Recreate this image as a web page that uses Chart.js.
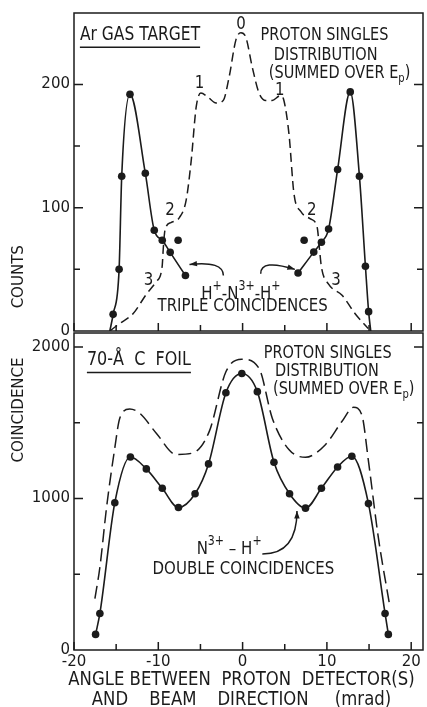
<!DOCTYPE html>
<html>
<head>
<meta charset="utf-8">
<title>Proton coincidences</title>
<script src="https://cdn.jsdelivr.net/npm/chart.js@4.4.1/dist/chart.umd.min.js"></script>
<style>
  html, body { margin: 0; padding: 0; background: #fff; }
  #wrap { position: relative; width: 427px; height: 707px; overflow: hidden; }
  canvas { position: absolute; left: 0; }
  #gasChart { top: 0; }
  #foilChart { top: 320px; }
</style>
</head>
<body>
<div id="wrap">
  <canvas id="gasChart" width="427" height="345"></canvas>
  <canvas id="foilChart" width="427" height="387"></canvas>
</div>
<script>
(() => {
  'use strict'

  const FONT = '"DejaVu Sans", sans-serif';
  const INK = '#1b1b1b';
  const STRETCH = 1.22;

  // Ar gas target: proton singles (dashed)
  const gasSinglesAngles = [-15.75, -14.6, -13.0, -11.4, -10.25, -9.55, -9.4, -9.2, -8.5, -7.5, -6.7, -6.1, -5.5, -4.95, -4.15, -3.15, -2.3, -1.6, -0.8, -0.2, 0.4, 1.15, 1.95, 2.75, 3.5, 4.5, 4.9, 5.5, 6.1, 6.9, 8.05, 8.85, 9.1, 9.35, 10.2, 11.8, 13.35, 14.9];
  const gasSinglesCounts = [0, 6, 14, 30, 40, 52, 68, 82, 88, 92, 106, 138, 182, 193, 190, 185, 187, 206, 236, 242, 238, 214, 193, 187, 187, 191, 187, 160, 111, 97, 91, 84, 68, 52, 38, 29, 14, 2];

  // Ar gas target: H+ - N3+ - H+ triple coincidences (solid with dots)
  const gasTripleLeftAngles = [-15.75, -15.36, -14.65, -14.34, -13.36, -11.54, -10.48, -9.53, -8.59, -6.78];
  const gasTripleLeftCounts = [0, 13.5, 50, 125.5, 192, 128, 81.7, 73.6, 63.8, 45];
  const gasTripleRightAngles = [6.58, 8.44, 9.35, 10.2, 11.27, 12.77, 13.86, 14.57, 14.95, 15.2];
  const gasTripleRightCounts = [47, 64, 72, 82.7, 131, 194, 125.5, 52.5, 15.7, 0];
  const gasLoneAngles = [-7.65, 7.3];
  const gasLoneCounts = [73.6, 73.6];

  // 70-A C foil: N3+ - H+ double coincidences (solid with dots)
  const foilDoubleAngles = [-17.44, -16.93, -15.16, -13.31, -11.42, -9.53, -7.61, -5.64, -4.04, -1.98, -0.09, 1.75, 3.72, 5.57, 7.46, 9.35, 11.27, 12.96, 14.93, 16.9, 17.29];
  const foilDoubleCounts = [103, 241, 972, 1274, 1195, 1067, 940, 1031, 1228, 1698, 1825, 1705, 1239, 1031, 936, 1067, 1208, 1279, 966, 241, 103];

  // 70-A C foil: proton singles (dashed)
  const foilSinglesAngles = [-17.52, -16.93, -16.14, -15.16, -14.57, -13.39, -12.21, -10.24, -7.88, -5.92, -3.95, -1.98, -0.09, 1.95, 3.52, 5.49, 7.46, 9.82, 11.78, 13.16, 14.14, 14.93, 16.1, 17.48];
  const foilSinglesCounts = [339, 546, 940, 1333, 1530, 1591, 1563, 1431, 1290, 1300, 1443, 1836, 1919, 1858, 1530, 1323, 1272, 1355, 1508, 1602, 1552, 1246, 743, 284];

  // ticks (all marks) and the ones that carry a label
  const angleTicks = [-20, -15, -10, -5, 0, 5, 10, 15, 20];
  const angleTickLabels = [-20, -10, 0, 10, 20];
  const gasCountTicks = [0, 50, 100, 150, 200];
  const gasCountTickLabels = [0, 100, 200];
  const foilCountTicks = [0, 500, 1000, 1500, 2000];
  const foilCountTickLabels = [0, 1000, 2000];

  const toPoints = (xs, ys) => xs.map((x, i) => ({ x: x, y: ys[i] }));
  const fixedTicks = values => scale => { scale.ticks = values.map(v => ({ value: v })) };
  const labelIf = list => v => list.includes(v) ? String(v) : '';

  // text with super/subscripts, parts = [[text, shift]]
  function richText(ctx, parts, x, y, size, align) {
    const small = Math.round(size * 0.7);
    let w = 0;
    parts.forEach(([t, s]) => {
      ctx.font = `${s ? small : size}px ${FONT}`;
      w += ctx.measureText(t).width;
    });
    let cx = align === 'left' ? x : x - w / 2;
    ctx.save();
    ctx.translate(0, y);
    ctx.scale(1, STRETCH);
    ctx.textBaseline = 'middle';
    ctx.textAlign = 'left';
    parts.forEach(([t, s]) => {
      ctx.font = `${s ? small : size}px ${FONT}`;
      const dy = s > 0 ? -size * 0.42 : s < 0 ? size * 0.32 : 0;
      ctx.fillText(t, cx, dy);
      cx += ctx.measureText(t).width;
    });
    ctx.restore();
    return { left: align === 'left' ? x : x - w / 2, width: w };
  }

  function arrow(ctx, p0, c, p1) {
    ctx.beginPath();
    ctx.moveTo(p0.x, p0.y);
    ctx.quadraticCurveTo(c.x, c.y, p1.x, p1.y);
    ctx.stroke();
    const a = Math.atan2(p1.y - c.y, p1.x - c.x);
    ctx.beginPath();
    ctx.moveTo(p1.x, p1.y);
    ctx.lineTo(p1.x - 8 * Math.cos(a - 0.35), p1.y - 8 * Math.sin(a - 0.35));
    ctx.lineTo(p1.x - 8 * Math.cos(a + 0.35), p1.y - 8 * Math.sin(a + 0.35));
    ctx.closePath();
    ctx.fill();
  }

  // box round the plot with inward tick marks
  const framePlugin = {
    id: 'frame',
    afterDraw(chart) {
      const { ctx, chartArea: a, scales: { x, y } } = chart;
      ctx.save();
      ctx.strokeStyle = INK;
      ctx.lineWidth = 1.5;
      ctx.strokeRect(a.left, a.top, a.right - a.left, a.bottom - a.top);
      ctx.beginPath();
      x.ticks.forEach(t => {
        const px = x.getPixelForValue(t.value);
        const len = angleTickLabels.includes(t.value) ? 8 : 6;
        ctx.moveTo(px, a.bottom);
        ctx.lineTo(px, a.bottom - len);
      });
      y.ticks.forEach(t => {
        if (t.value === 0) return;
        const py = y.getPixelForValue(t.value);
        const len = t.label ? 9 : 6;
        ctx.moveTo(a.left, py);
        ctx.lineTo(a.left + len, py);
        ctx.moveTo(a.right, py);
        ctx.lineTo(a.right - len, py);
      });
      ctx.stroke();
      ctx.restore();
    }
  };

  // annotation texts and arrows, placed in data units
  const notesPlugin = {
    id: 'notes',
    afterDraw(chart, args, opts) {
      const { ctx, chartArea: a, scales: { x, y } } = chart;
      const pt = p => ({ x: x.getPixelForValue(p[0]), y: y.getPixelForValue(p[1]) });
      ctx.save();
      ctx.fillStyle = INK;
      ctx.strokeStyle = INK;
      (opts.items || []).forEach(n => {
        const p = pt(n.at);
        const parts = n.parts || [[n.text, 0]];
        const box = richText(ctx, parts, p.x, p.y, n.size || 15, n.align || 'center');
        if (n.underline) {
          ctx.lineWidth = 1.6;
          ctx.beginPath();
          ctx.moveTo(box.left, p.y + 12);
          ctx.lineTo(box.left + box.width, p.y + 12);
          ctx.stroke();
        }
      });
      ctx.lineWidth = 1.5;
      (opts.arrows || []).forEach(r => arrow(ctx, pt(r[0]), pt(r[1]), pt(r[2])));
      if (opts.yTitle) {
        const py = y.getPixelForValue(opts.yTitle.at);
        ctx.save();
        ctx.translate(a.left - 55, py);
        ctx.rotate(-Math.PI / 2);
        ctx.font = `15px ${FONT}`;
        ctx.textAlign = 'center';
        ctx.textBaseline = 'middle';
        ctx.scale(1, 1.1);
        ctx.fillText(opts.yTitle.text, 0, 0);
        ctx.restore();
      }
      if (opts.xTitle) {
        const cx = (a.left + a.right) / 2 - 7;
        opts.xTitle.forEach((line, i) => {
          richText(ctx, [[line, 0]], cx, a.bottom + 30 + i * 19.5, 16.5, 'center');
        });
      }
      ctx.restore();
    }
  };

  Chart.register(framePlugin, notesPlugin);

  const solid = (pts, radius) => ({
    data: pts,
    borderColor: INK,
    backgroundColor: INK,
    borderWidth: 1.6,
    pointRadius: radius,
    pointBorderWidth: 0,
    cubicInterpolationMode: 'monotone',
    showLine: true
  });
  const dashed = (pts, dash) => ({
    data: pts,
    borderColor: INK,
    borderWidth: 1.5,
    borderDash: dash,
    pointRadius: 0,
    cubicInterpolationMode: 'monotone',
    showLine: true
  });

  const tickFont = { family: FONT, size: 15 };

  const ctx1 = document.getElementById('gasChart');
  const gasChart = new Chart(ctx1, {
    type: 'scatter',
    data: {
      datasets: [
        dashed(toPoints(gasSinglesAngles, gasSinglesCounts), [9, 5]),
        solid(toPoints(gasTripleLeftAngles, gasTripleLeftCounts), gasTripleLeftAngles.map((v, i) => i === 0 ? 0 : 3.8)),
        solid(toPoints(gasTripleRightAngles, gasTripleRightCounts), gasTripleRightAngles.map((v, i, arr) => i === arr.length - 1 ? 0 : 3.8)),
        Object.assign(solid(toPoints(gasLoneAngles, gasLoneCounts), 3.8), { showLine: false })
      ]
    },
    options: {
      responsive: false,
      animation: false,
      layout: { padding: { top: 13, right: 2, bottom: 0, left: 0 } },
      scales: {
        x: {
          type: 'linear', min: -20, max: 21.4,
          afterBuildTicks: fixedTicks(angleTicks),
          ticks: { display: false },
          grid: { display: false, drawTicks: false },
          border: { display: false },
          afterFit: s => { s.height = 14 }
        },
        y: {
          min: 0, max: 258,
          afterBuildTicks: fixedTicks(gasCountTicks),
          ticks: {
            padding: 4, autoSkip: false,
            color: INK, font: tickFont,
            callback: labelIf(gasCountTickLabels)
          },
          grid: { display: false, drawTicks: false },
          border: { display: false },
          afterFit: s => { s.width = 74 }
        }
      },
      plugins: {
        legend: { display: false },
        tooltip: { enabled: false },
        notes: {
          items: [
            { text: 'Ar GAS TARGET', at: [-19.3, 240], align: 'left', underline: true, size: 15.5 },
            { text: 'PROTON SINGLES', at: [9.7, 240], size: 14.5 },
            { text: 'DISTRIBUTION', at: [9.85, 224], size: 14.5 },
            { parts: [['(SUMMED OVER E', 0], ['p', -1], [')', 0]], at: [11.5, 209], size: 14.5 },
            { text: '0', at: [-0.2, 249] },
            { text: '1', at: [-5.1, 201] },
            { text: '1', at: [4.42, 195] },
            { text: '2', at: [-8.6, 98] },
            { text: '2', at: [8.2, 98] },
            { text: '3', at: [-11.15, 41] },
            { text: '3', at: [11.07, 41] },
            { parts: [['H', 0], ['+', 1], ['-N', 0], ['3+', 1], ['-H', 0], ['+', 1]], at: [-0.2, 30] },
            { text: 'TRIPLE COINCIDENCES', at: [0, 20] }
          ],
          arrows: [
            [[-2.28, 45], [-2.28, 57], [-6.3, 54]],
            [[2.15, 46.5], [2.15, 58.7], [6.2, 50]]
          ],
          yTitle: { text: 'COUNTS', at: 44 }
        }
      }
    }
  });

  const ctx2 = document.getElementById('foilChart');
  const foilChart = new Chart(ctx2, {
    type: 'scatter',
    data: {
      datasets: [
        dashed(toPoints(foilSinglesAngles, foilSinglesCounts), [13, 6]),
        solid(toPoints(foilDoubleAngles, foilDoubleCounts), 3.8)
      ]
    },
    options: {
      responsive: false,
      animation: false,
      layout: { padding: { top: 11, right: 2, bottom: 0, left: 0 } },
      scales: {
        x: {
          type: 'linear', min: -20, max: 21.4,
          afterBuildTicks: fixedTicks(angleTicks),
          ticks: {
            padding: 3, autoSkip: false, maxRotation: 0,
            color: INK, font: tickFont,
            callback: labelIf(angleTickLabels)
          },
          grid: { display: false, drawTicks: false },
          border: { display: false },
          afterFit: s => { s.height = 57 }
        },
        y: {
          min: 0, max: 2092,
          afterBuildTicks: fixedTicks(foilCountTicks),
          ticks: {
            padding: 4, autoSkip: false,
            color: INK, font: tickFont,
            callback: labelIf(foilCountTickLabels)
          },
          grid: { display: false, drawTicks: false },
          border: { display: false },
          afterFit: s => { s.width = 74 }
        }
      },
      plugins: {
        legend: { display: false },
        tooltip: { enabled: false },
        notes: {
          items: [
            { text: '70-Å  C  FOIL', at: [-18.47, 1911], align: 'left', underline: true, size: 16 },
            { text: 'PROTON SINGLES', at: [10.1, 1957], size: 14.5 },
            { text: 'DISTRIBUTION', at: [10.0, 1836], size: 14.5 },
            { parts: [['(SUMMED OVER E', 0], ['p', -1], [')', 0]], at: [12.0, 1721], size: 14.5 },
            { parts: [['N', 0], ['3+', 1], [' – H', 0], ['+', 1]], at: [-1.6, 662] },
            { text: 'DOUBLE COINCIDENCES', at: [0.1, 534] }
          ],
          arrows: [
            [[2.34, 634], [6.45, 634], [6.45, 918]]
          ],
          yTitle: { text: 'COINCIDENCE', at: 1584 },
          xTitle: ['ANGLE BETWEEN  PROTON  DETECTOR(S)', 'AND    BEAM    DIRECTION     (mrad)']
        }
      }
    }
  });

})();
</script>
</body>
</html>
